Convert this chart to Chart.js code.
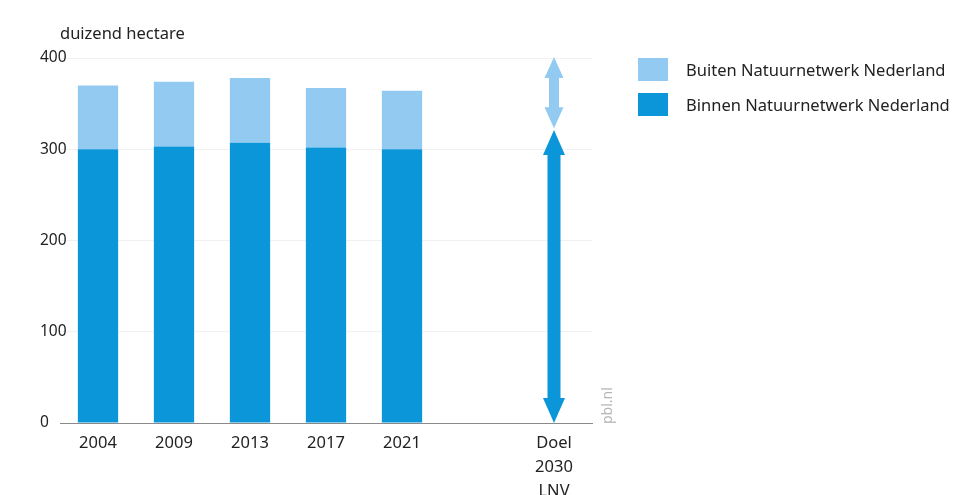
<!DOCTYPE html>
<html>
<head>
<meta charset="utf-8">
<script src="https://cdn.jsdelivr.net/npm/chart.js@4.4.0/dist/chart.umd.min.js"></script>
<style>
  html, body { margin: 0; padding: 0; background: #fff; }
  #wrap { position: relative; width: 967px; height: 495px; font-family: 'Noto Sans', sans-serif; color: #222; }
  #chart { position: absolute; left: 0; top: 0; }
  .title { position: absolute; left: 60px; top: 21px; font-size: 16.5px; }
  .legend { position: absolute; left: 638px; top: 57px; font-size: 16.5px; }
  .legend div { display: flex; align-items: center; height: 24px; margin-bottom: 11px; }
  .legend span.sw { display: inline-block; width: 30px; height: 23px; margin-right: 18px; }
  .pbl { position: absolute; left: 597px; top: 424px; font-size: 14px; color: #b5b5b5; transform: rotate(-90deg); transform-origin: left top; }
</style>
</head>
<body>
<div id="wrap">
  <canvas id="chart" width="967" height="495"></canvas>
  <div class="title">duizend hectare</div>
  <div class="legend">
    <div><span class="sw" style="background:#93caf2"></span>Buiten Natuurnetwerk Nederland</div>
    <div><span class="sw" style="background:#0b96da"></span>Binnen Natuurnetwerk Nederland</div>
  </div>
  <div class="pbl">pbl.nl</div>
</div>
<script>
const categorieen = ['2004', '2009', '2013', '2017', '2021', '', ['Doel', '2030', 'LNV']];
const binnen = [300, 303, 307, 302, 300, null, null];
const buiten = [70, 71, 71, 65, 64, null, null];
const yTicks = [0, 100, 200, 300, 400];

// doel 2030: pijl binnen (van, tot) en pijl buiten (van, tot)
const doelBinnen = [0, 321];
const doelBuiten = [323, 401];

const kleurBinnen = '#0b96da';
const kleurBuiten = '#93caf2';

function tekenPijl(ctx, x, yBoven, yOnder, schacht, kop, kopLengte, kleur) {
    ctx.save();
    ctx.fillStyle = kleur;
    ctx.beginPath();
    ctx.moveTo(x, yBoven);
    ctx.lineTo(x + kop / 2, yBoven + kopLengte);
    ctx.lineTo(x + schacht / 2, yBoven + kopLengte);
    ctx.lineTo(x + schacht / 2, yOnder - kopLengte);
    ctx.lineTo(x + kop / 2, yOnder - kopLengte);
    ctx.lineTo(x, yOnder);
    ctx.lineTo(x - kop / 2, yOnder - kopLengte);
    ctx.lineTo(x - schacht / 2, yOnder - kopLengte);
    ctx.lineTo(x - schacht / 2, yBoven + kopLengte);
    ctx.lineTo(x - kop / 2, yBoven + kopLengte);
    ctx.closePath();
    ctx.fill();
    ctx.restore();
}

const pijlPlugin = {
    id: 'doelPijlen',
    afterDatasetsDraw(chart) {
        const x = chart.scales.x.getPixelForValue(6);
        const y = chart.scales.y;
        const ctx = chart.ctx;
        tekenPijl(ctx, x, y.getPixelForValue(doelBinnen[1]), y.getPixelForValue(doelBinnen[0]), 13, 22, 25, kleurBinnen);
        tekenPijl(ctx, x, y.getPixelForValue(doelBuiten[1]), y.getPixelForValue(doelBuiten[0]), 10, 19, 21, kleurBuiten);
    }
};

new Chart(document.getElementById('chart'), {
    type: 'bar',
    data: {
        labels: categorieen,
        datasets: [
            { label: 'Binnen Natuurnetwerk Nederland', data: binnen, backgroundColor: kleurBinnen, borderWidth: 0 },
            { label: 'Buiten Natuurnetwerk Nederland', data: buiten, backgroundColor: kleurBuiten, borderWidth: 0 }
        ]
    },
    options: {
        responsive: false,
        animation: false,
        layout: { padding: { left: 40, top: 58, right: 375, bottom: 0 } },
        datasets: { bar: { barPercentage: 0.53, categoryPercentage: 1 } },
        plugins: { legend: { display: false }, tooltip: { enabled: false } },
        scales: {
            x: {
                stacked: true,
                afterFit: (axis) => { axis.height = 72; },
                grid: { display: false },
                border: { display: true, color: '#8a8a8a', width: 1 },
                ticks: {
                    color: '#222',
                    padding: 0,
                    maxRotation: 0,
                    autoSkip: false,
                    font: { family: 'Noto Sans', size: 16.5, lineHeight: 1.45 }
                }
            },
            y: {
                stacked: true,
                min: 0,
                max: 400,
                afterFit: (axis) => { axis.width = 20; },
                afterBuildTicks: (axis) => { axis.ticks = yTicks.map(v => ({ value: v })); },
                border: { display: false },
                grid: {
                    drawTicks: false,
                    color: (c) => c.tick.value === 0 ? '#8a8a8a' : '#f1f1f1'
                },
                ticks: {
                    color: '#222',
                    mirror: true,
                    padding: -20,
                    font: { family: 'Noto Sans', size: 15.5 }
                }
            }
        }
    },
    plugins: [pijlPlugin]
});
</script>
</body>
</html>
